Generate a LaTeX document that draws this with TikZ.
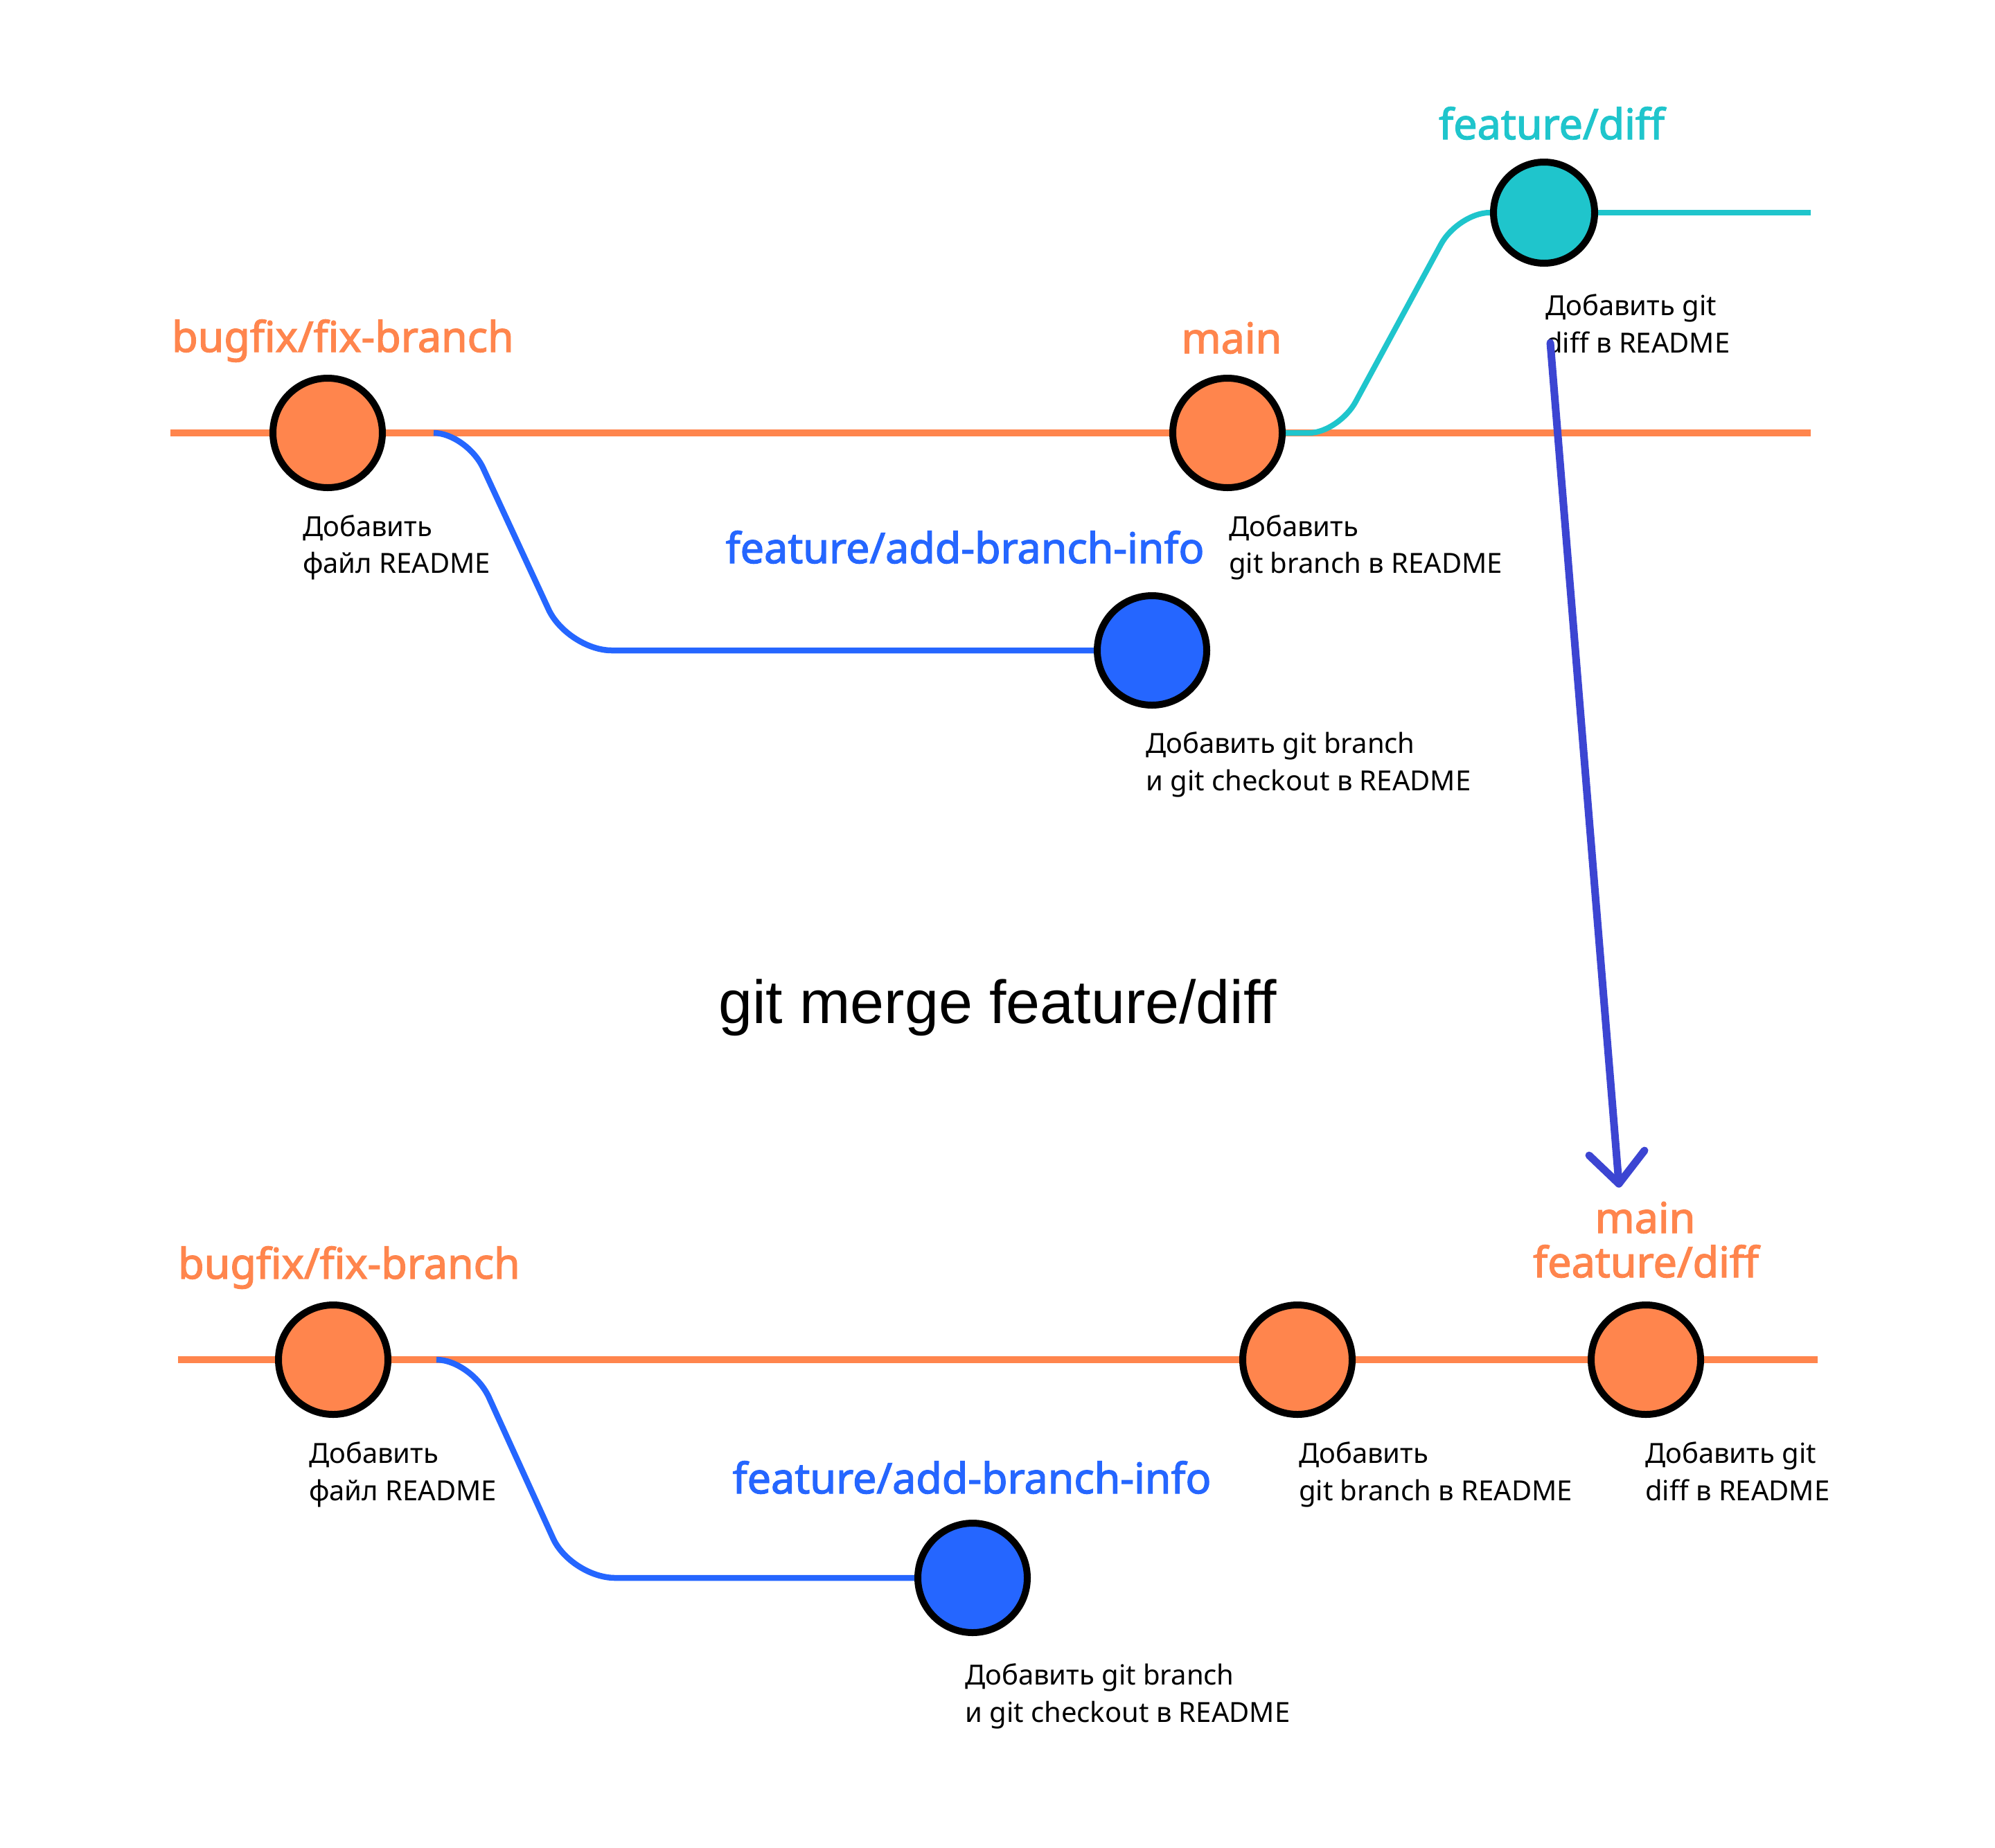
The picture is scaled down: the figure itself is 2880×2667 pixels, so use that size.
\documentclass[tikz,border=0pt]{standalone}
\usepackage{fontspec}
\setmainfont{Noto Sans}
\newfontfamily\lblfont[FakeBold=2.2]{Noto Sans}
\newfontfamily\cmdfont{Liberation Sans}
\usetikzlibrary{backgrounds}
\definecolor{gorange}{HTML}{FF854D}
\definecolor{gteal}{HTML}{1FC5CC}
\definecolor{gblue}{HTML}{2566FF}
\definecolor{garrow}{HTML}{3C45D2}
\begin{document}
\begin{tikzpicture}[x=1pt,y=-1pt,
 commit/.style={circle, draw=black, line width=10pt, minimum size=158pt, inner sep=0pt},
 caption/.style={anchor=base west, align=left, inner sep=0pt, font=\fontsize{40}{53.5}\selectfont},
 branchlabel/.style={anchor=base, inner sep=0pt, font=\lblfont\fontsize{61}{64}\selectfont},
 mainline/.style={draw=gorange, line width=10pt},
 tealline/.style={draw=gteal, line width=8pt},
 blueline/.style={draw=gblue, line width=8.5pt},
 mergearrow/.style={draw=garrow, line width=11pt, line cap=round, line join=round}]
\useasboundingbox (0,0) rectangle (2880,2667);
% ---------- top state ----------
\node[commit, fill=gorange] (a1) at (473,625) {};
\node[commit, fill=gorange] (a2) at (1772,625) {};
\node[commit, fill=gteal, minimum size=146pt] (a3) at (2229,307) {};
\node[commit, fill=gblue] (a4) at (1663,939) {};
\coordinate (aL) at (246,625);
\coordinate (aR) at (2614,625);
\coordinate (tE) at (2614,307);
\coordinate (bS) at (626,625);
\begin{pgfonlayer}{background}
\draw[mainline] (aL) -- (aR);
\draw[tealline] (a2) -- (1890,625) .. controls (1914,625) and (1944,604) .. (1957,580)
  -- (2080,353) .. controls (2094,327) and (2126,307) .. (2150,307) -- (a3);
\draw[tealline] (a3) -- (tE);
\draw[blueline] (bS) .. controls (652,625) and (685,648) .. (698,677)
  -- (792,880) .. controls (807,912) and (848,939) .. (883,939) -- (a4);
\end{pgfonlayer}
\node[branchlabel, anchor=base west, text=gorange] (l1) at (248,508) {bugfix/fix-branch};
\node[branchlabel, text=gorange] (l2) at (1778,510) {main};
\node[branchlabel, text=gteal] (l3) at (2240,201) {feature/diff};
\node[branchlabel, text=gblue] (l4) at (1393,813) {feature/add-branch-info};
\node[caption] (t1) at (437,827.5) {Добавить\\файл README};
\node[caption] (t2) at (1774,827.5) {Добавить\\git branch в README};
\node[caption] (t3) at (2231,509) {Добавить git\\diff в README};
\node[caption] (t4) at (1654,1141) {Добавить git branch\\и git checkout в README};
% ---------- command ----------
\node[anchor=base, inner sep=0pt, font=\cmdfont\fontsize{88}{96}\selectfont] (cmd) at (1440,1477) {git merge feature/diff};
% ---------- bottom state ----------
\node[commit, fill=gorange] (b1) at (481,1963) {};
\node[commit, fill=gorange] (b2) at (1873,1963) {};
\node[commit, fill=gorange] (b3) at (2376,1963) {};
\node[commit, fill=gblue] (b4) at (1404,2278) {};
\coordinate (bL) at (257,1963);
\coordinate (bR) at (2624,1963);
\coordinate (cS) at (630,1963);
\begin{pgfonlayer}{background}
\draw[mainline] (bL) -- (bR);
\draw[blueline] (cS) .. controls (659,1963) and (694,1989) .. (707,2020)
  -- (798,2220) .. controls (812,2252) and (853,2278) .. (888,2278) -- (b4);
\end{pgfonlayer}
\node[branchlabel, anchor=base west, text=gorange] (m1) at (257,1846) {bugfix/fix-branch};
\node[branchlabel, text=gblue] (m4) at (1403,2156) {feature/add-branch-info};
\node[branchlabel, text=gorange] (m3a) at (2375,1780) {main};
\node[branchlabel, text=gorange] (m3b) at (2376,1844) {feature/diff};
\node[caption] (u1) at (446,2166) {Добавить\\файл README};
\node[caption] (u2) at (1875,2166) {Добавить\\git branch в README};
\node[caption] (u3) at (2375,2166) {Добавить git\\diff в README};
\node[caption] (u4) at (1393,2486) {Добавить git branch\\и git checkout в README};
% ---------- merge arrow ----------
\coordinate (arS) at (2238,495);
\coordinate (arE) at (2337,1709);
\coordinate (arL) at (2294,1668);
\coordinate (arR) at (2374,1661);
\draw[mergearrow] (arS) -- (arE);
\draw[mergearrow] (arL) -- (arE) -- (arR);
\end{tikzpicture}
\end{document}
